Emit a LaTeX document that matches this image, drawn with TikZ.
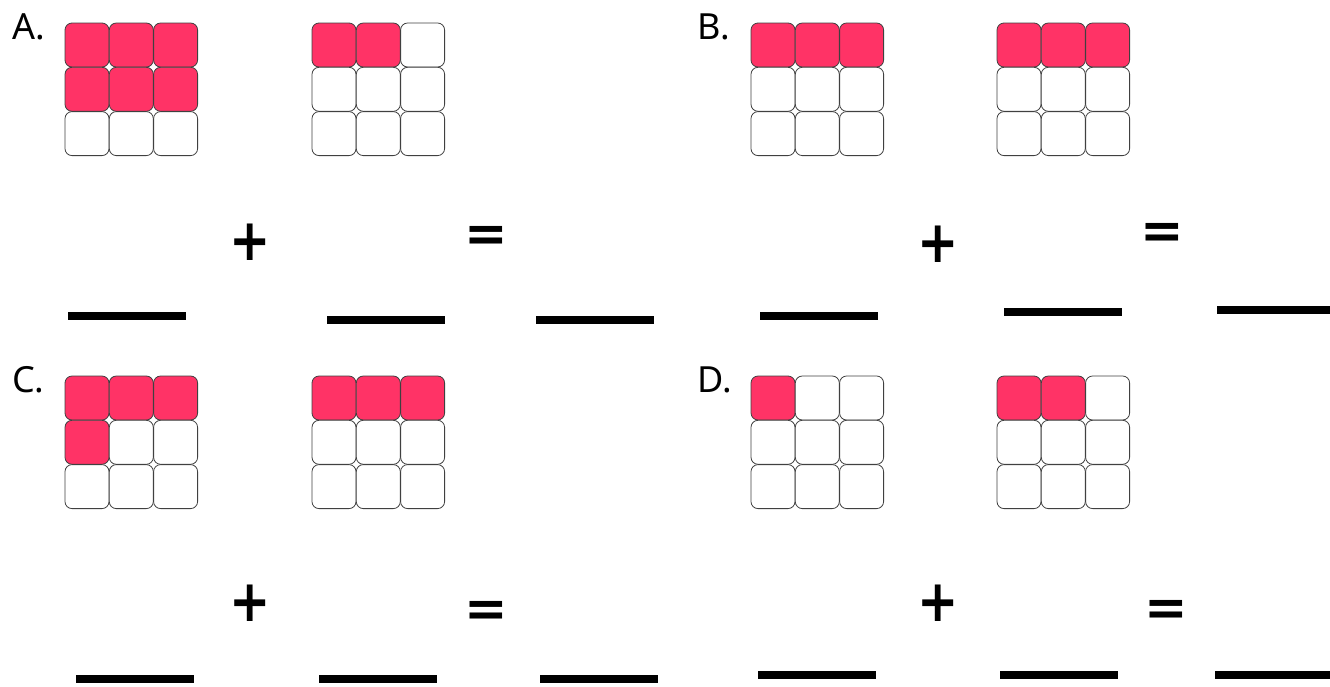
\documentclass[tikz,border=0pt]{standalone}
\usepackage{fontspec}
\setmainfont{Noto Sans}
\newfontfamily\signfont{DejaVu Sans}
\definecolor{cellred}{HTML}{FF3366}

\begin{document}
\begin{tikzpicture}[x=1pt,y=-1pt,
    cell/.style={draw=black!75, line width=0.8pt, rounded corners=7pt, minimum size=44pt, inner sep=0pt},
    blank/.style={fill=black, minimum width=118pt, minimum height=8pt, inner sep=0pt},
    letter/.style={font=\fontsize{36}{36}\selectfont, anchor=base west, inner sep=0pt},
    sign/.style={font=\signfont\bfseries\fontsize{52}{52}\selectfont, inner sep=0pt}]

    \useasboundingbox (0,0) rectangle (1330,686);

    % the eight 3x3 grids: name / left / top / number of red cells
    \foreach \g/\gx/\gy/\n in {A1/65/23/6, A2/312/23/2, B1/751/23/3, B2/997/23/3,
                               C1/65/376/4, C2/312/376/3, D1/751/376/1, D2/997/376/2} {
        \foreach \r in {0,1,2} {
            \foreach \c in {0,1,2} {
                \pgfmathtruncatemacro\k{3*\r+\c}
                \ifnum\k<\n \def\fillcol{cellred}\else\def\fillcol{white}\fi
                \node[cell, fill=\fillcol] (\g-\r\c) at (\gx+22+44.3*\c, \gy+22+44.3*\r) {};
            }
        }
    }

    % letters of the four parts
    \node[letter] (labA) at (12,39) {A.};
    \node[letter] (labB) at (697,39) {B.};
    \node[letter] (labC) at (12,392) {C.};
    \node[letter] (labD) at (697,392) {D.};

    % part A
    \node[blank] (A-x) at (127,316) {}; % first blank
    \node[sign] (A-plus) at (250,242.5) {\scalebox{0.95}[1.12]{+}};
    \node[blank] (A-y) at (385.5,320) {}; % second blank
    \node[sign] (A-eq) at (486,239) {=};
    \node[blank] (A-z) at (594.5,320) {}; % sum

    % part B
    \node[blank] (B-x) at (818.5,316) {};
    \node[sign] (B-plus) at (938,244.5) {\scalebox{0.95}[1.12]{+}};
    \node[blank] (B-y) at (1063,312) {};
    \node[sign] (B-eq) at (1162,236) {=};
    \node[blank] (B-z) at (1276,310) {};

    % part C
    \node[blank] (C-x) at (135,679) {};
    \node[sign] (C-plus) at (250,603) {\scalebox{0.95}[1.12]{+}};
    \node[blank] (C-y) at (377.5,679) {};
    \node[sign] (C-eq) at (486,614) {=};
    \node[blank] (C-z) at (599,679) {};

    % part D
    \node[blank] (D-x) at (816.5,675) {};
    \node[sign] (D-plus) at (938,603) {\scalebox{0.95}[1.12]{+}};
    \node[blank] (D-y) at (1058.5,675) {};
    \node[sign] (D-eq) at (1166,613) {=};
    \node[blank] (D-z) at (1274,675) {};
\end{tikzpicture}
\end{document}
